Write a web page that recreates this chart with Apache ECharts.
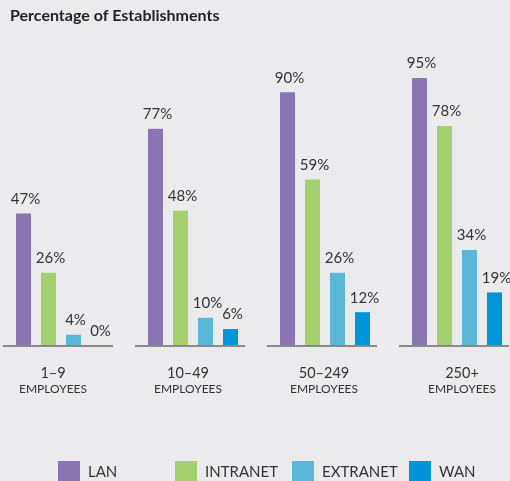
<!DOCTYPE html>
<html><head><meta charset="utf-8">
<script src="https://cdn.jsdelivr.net/npm/echarts@6/dist/echarts.min.js"></script>
<style>html,body{margin:0;padding:0;background:#ebebed;overflow:hidden;width:510px;height:481px;position:relative;}#c{position:absolute;left:-5px;top:0;width:528px;height:481px;}</style>
</head><body><div id="c"></div>
<script>
const categories = ['1–9', '10–49', '50–249', '250+'];
const subLabel = 'EMPLOYEES';
const seriesNames = ['LAN', 'INTRANET', 'EXTRANET', 'WAN'];
const lan = [47, 77, 90, 95];
const intranet = [26, 48, 59, 78];
const extranet = [4, 10, 26, 34];
const wan = [0, 6, 12, 19];
const titleText = 'Percentage of Establishments';

const colors = ['#8a75b2', '#a4d06d', '#5bb7d8', '#0095d9'];
const labelShift = [-8, -5, -1, 5];
const FONT = 'Lato, "Open Sans", sans-serif';
const X0 = 5; // container is shifted 5px left

const rich = {};
categories.forEach((c, i) => {
  const s = labelShift[i];
  const pad = s < 0 ? [0, -2 * s, 0, 0] : [0, 0, 0, 2 * s];
  rich['a' + i] = { fontSize: 14.5, lineHeight: 18, color: '#333', fontFamily: FONT, padding: pad };
  rich['b' + i] = { fontSize: 12, lineHeight: 14, color: '#333', fontFamily: FONT, padding: pad };
});

const valuesList = [lan, intranet, extranet, wan];
const barSeries = seriesNames.map((name, i) => ({
  name: name,
  type: 'bar',
  data: valuesList[i],
  barWidth: 15,
  barGap: '66.67%',
  itemStyle: { color: colors[i] },
  label: {
    show: true, position: 'top', distance: 7, offset: [2, 0],
    formatter: '{c}%', fontSize: 15, color: '#333', fontFamily: FONT
  }
}));

const chart = echarts.init(document.getElementById('c'), null, { renderer: 'canvas' });
chart.setOption({
  backgroundColor: '#ebebed',
  animation: false,
  title: {
    text: titleText, left: 10 + X0, top: 8, padding: 0,
    textStyle: { fontSize: 16, fontWeight: 'bold', color: '#231f20', fontFamily: FONT }
  },
  legend: seriesNames.map((n, i) => ({
    data: [n], left: 58 + 117 * i + X0, top: 461, padding: 0,
    itemWidth: 22, itemHeight: 22, icon: 'rect',
    textStyle: { fontSize: 15, color: '#333', fontFamily: FONT, padding: [6, 0, 0, 3] }
  })),
  grid: { left: 0, right: 0, top: 64, bottom: 135, containLabel: false },
  xAxis: {
    type: 'category', data: categories,
    axisLine: { show: false }, axisTick: { show: false },
    axisLabel: {
      margin: 18, interval: 0,
      formatter: (v, i) => '{a' + i + '|' + v + '}\n{b' + i + '|' + subLabel + '}',
      rich: rich
    }
  },
  yAxis: { type: 'value', min: 0, max: 100, show: false, splitLine: { show: false } },
  series: barSeries.concat([{
    type: 'custom', name: 'axis', silent: true, z: 3,
    data: categories.map(() => 0),
    renderItem: (params, api) => {
      const p = api.coord([api.value(0), 0]);
      return { type: 'line', shape: { x1: p[0] - 58, y1: p[1], x2: p[0] + 52, y2: p[1] },
        style: { stroke: '#8a8a8a', lineWidth: 2 } };
    },
    encode: { x: 0, y: 1 }
  }])
});
</script></body></html>
